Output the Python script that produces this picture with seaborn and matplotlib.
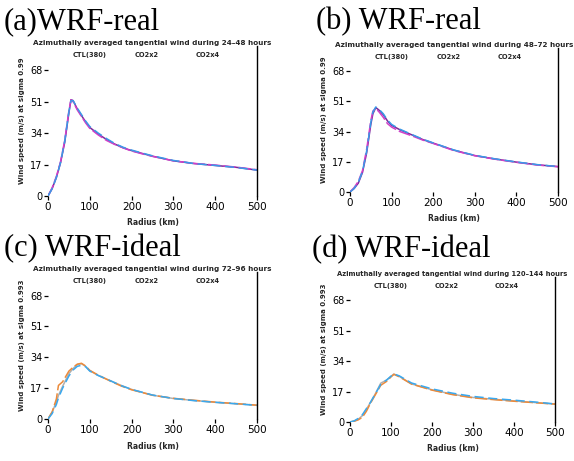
import numpy as np
import pandas as pd
import matplotlib
matplotlib.use("Agg")
import matplotlib.pyplot as plt
import seaborn as sns

sns.set_theme(style="white")
plt.rcParams['font.family'] = ['DejaVu Sans']

panel_titles = ["(a)WRF-real", "(b) WRF-real", "(c) WRF-ideal", "(d) WRF-ideal"]
subtitles = [
    "Azimuthally averaged tangential wind during 24\u201348 hours",
    "Azimuthally averaged tangential wind during 48\u201372 hours",
    "Azimuthally averaged tangential wind during 72\u201396 hours",
    "Azimuthally averaged tangential wind during 120\u2013144 hours",
]
ylabels = [
    "Wind speed (m/s) at sigma 0.99",
    "Wind speed (m/s) at sigma 0.99",
    "Wind speed (m/s) at sigma 0.993",
    "Wind speed (m/s) at sigma 0.993",
]
series_names = ["CTL(380)", "CO2x2", "CO2x4"]
xticks = [0, 100, 200, 300, 400, 500]
yticks = [0, 17, 34, 51, 68]

# (a) WRF-real 24-48 h
ra = [0, 10, 20, 30, 40, 50, 55, 60, 70, 80, 90, 100, 120, 140, 160, 180, 200, 225, 250, 300, 350, 400, 450, 500]
a_ctl = [0, 4, 10, 18, 29, 45, 52, 51.5, 47, 43.5, 40, 37, 33.5, 30.5, 28, 26, 24.5, 23, 21.5, 19, 17.5, 16.5, 15.5, 14]
a_x2 = [0, 4.5, 10.5, 18.5, 30, 46, 52, 51, 46.5, 43, 39.5, 36.5, 33, 30, 27.8, 26, 24.3, 22.8, 21.4, 19, 17.6, 16.7, 15.6, 14.2]
a_x4 = [0, 4, 10, 18, 29.5, 45.5, 51.5, 51.5, 47.5, 44, 40.5, 37.5, 34, 31, 28.3, 26.3, 24.8, 23.2, 21.7, 19.2, 17.5, 16.5, 15.4, 14]

# (b) WRF-real 48-72 h
rb = [0, 10, 20, 30, 40, 50, 55, 62, 70, 80, 90, 100, 120, 150, 175, 200, 250, 300, 350, 400, 450, 500]
b_ctl = [0, 2, 5, 11, 22, 38, 44, 47.5, 46, 43.5, 40, 37.5, 35, 32, 29.5, 27.5, 23.5, 20.5, 18.5, 16.8, 15.3, 14.3]
b_x2 = [0, 2.5, 6, 12, 24, 40, 45.5, 47, 45, 42, 38.5, 36.5, 34, 31.5, 29.2, 27.3, 23.3, 20.4, 18.4, 16.7, 15.2, 14.2]
b_x4 = [0, 2, 5.5, 11.5, 23, 39, 45, 47.8, 46.5, 44, 40.5, 38, 35.3, 32.2, 29.7, 27.6, 23.6, 20.6, 18.6, 16.9, 15.4, 14.3]

# (c) WRF-ideal 72-96 h
rc = [0, 10, 20, 25, 35, 50, 60, 70, 80, 90, 100, 120, 150, 175, 200, 250, 300, 350, 400, 450, 500]
c_ctl = [0, 3.7, 9.5, 13, 18, 25, 27.8, 30, 30.5, 29, 26.6, 24, 21, 18.5, 16.3, 13.1, 11.3, 10.2, 9.2, 8.4, 7.6]
c_x2 = [0, 4, 11, 18.5, 20.5, 26.4, 28.5, 30.2, 30.7, 29.2, 26.8, 24.2, 20.8, 18.2, 16.1, 13.1, 11.4, 10.3, 9.3, 8.5, 7.6]
c_x4 = [0, 3, 8, 11.6, 17, 23.7, 27, 29, 29.6, 28.8, 26.4, 24, 21, 18.4, 16.3, 13.2, 11.3, 10.1, 9.2, 8.4, 7.5]

# (d) WRF-ideal 120-144 h
rd = [0, 10, 20, 30, 40, 50, 60, 75, 90, 100, 107, 120, 150, 200, 250, 300, 350, 400, 450, 500]
d_ctl = [0, 0.5, 1.5, 3.5, 7, 11, 15, 21.7, 23.5, 25.5, 26.8, 25.5, 21.3, 18, 15.5, 13.7, 12.7, 11.8, 10.9, 10]
d_x2 = [0, 0.4, 1.2, 2.6, 6, 10.5, 14.5, 20.5, 22.8, 25.2, 26.6, 25.3, 21.2, 17.8, 15.3, 13.5, 12.5, 11.6, 10.8, 10]
d_x4 = [0, 0.6, 2, 4, 7.5, 11, 15, 21, 23.6, 25.6, 26.8, 25.8, 21.8, 18.5, 16.1, 14.3, 13.1, 12.2, 11.2, 10.1]

panels = [
    (ra, [a_ctl, a_x2, a_x4]),
    (rb, [b_ctl, b_x2, b_x4]),
    (rc, [c_ctl, c_x2, c_x4]),
    (rd, [d_ctl, d_x2, d_x4]),
]
palettes = [
    ["#7a2a9a", "#d040c8", "#3a9ae8"],
    ["#7a2a9a", "#d040c8", "#3a9ae8"],
    ["#b0b0b0", "#ec8a3a", "#3aa8ee"],
    ["#b0b0b0", "#ec8a3a", "#3aa8ee"],
]

W, H = 574, 461
fig = plt.figure(figsize=(W / 100, H / 100), dpi=100)

# axes rectangles in pixels: (left, top, right, bottom)
rects = [(48, 46, 257, 196), (350, 48, 558, 192), (48, 272, 257, 419), (350, 277, 555, 422)]
title_pos = [(4, 29), (316, 29), (4, 256), (312, 257)]
sub_fs = [5.2, 5.2, 5.2, 4.85]

for i, ((r, vals), pal) in enumerate(zip(panels, palettes)):
    l, t, rr, b = rects[i]
    ax = fig.add_axes([l / W, 1 - b / H, (rr - l) / W, (b - t) / H])
    rows = []
    for name, v in zip(series_names, vals):
        for x, y in zip(r, v):
            rows.append({"radius": x, "wind": y, "run": name})
    df = pd.DataFrame(rows)
    sns.lineplot(data=df, x="radius", y="wind", hue="run", palette=pal,
                 ax=ax, legend=False, linewidth=1.1)
    for ln, ls in zip(ax.lines, ["-", (0, (8, 2)), (0, (6, 3))]):
        ln.set_linestyle(ls)
    ax.set_xlim(0, 500)
    ax.set_ylim(0, 81)
    ax.set_xticks(xticks)
    ax.set_yticks(yticks)
    ax.set_xticklabels([str(v) for v in xticks], fontsize=7.5)
    ax.set_yticklabels([str(v) for v in yticks], fontsize=7)
    ax.tick_params(axis="both", direction="out", length=3, width=0.9, pad=1,
                   colors="black", bottom=True, left=True)
    for s in ["top", "left", "bottom"]:
        ax.spines[s].set_visible(False)
    ax.spines["right"].set_visible(True)
    ax.spines["right"].set_color("black")
    ax.spines["right"].set_linewidth(1.0)
    ax.set_xlabel("Radius (km)", fontsize=5.5, fontweight="bold", labelpad=5)
    ax.set_ylabel(ylabels[i], fontsize=5, fontweight="bold", labelpad=4)
    ax.set_facecolor("white")
    ax.text(0.5, 1.0, subtitles[i], transform=ax.transAxes, ha="center", va="bottom",
            fontsize=sub_fs[i], fontweight="bold")
    for name, xp in zip(series_names, [100, 237, 383]):
        ax.text(xp, 0.96, name, transform=ax.get_xaxis_transform(), ha="center", va="top",
                fontsize=4.8, fontweight="bold")
    tx, ty = title_pos[i]
    fig.text(tx / W, 1 - ty / H, panel_titles[i], fontsize=22, family="Liberation Serif",
             ha="left", va="baseline", color="black")

fig.savefig("out.png", dpi=100, facecolor="white")
